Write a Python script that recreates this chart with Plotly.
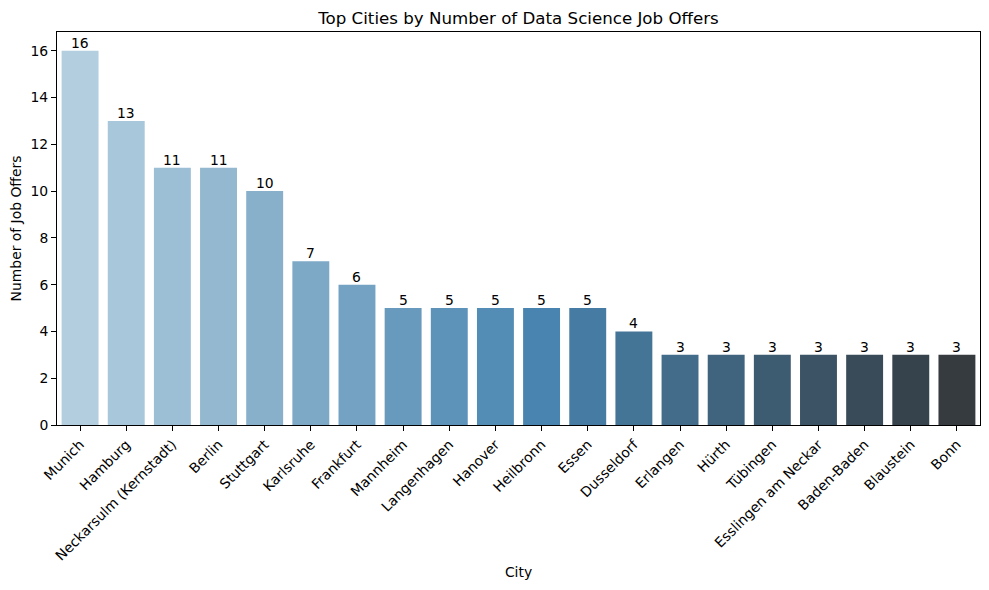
import colorsys
import numpy as np
import plotly.graph_objects as go

cities = ["Munich", "Hamburg", "Neckarsulm (Kernstadt)", "Berlin", "Stuttgart",
          "Karlsruhe", "Frankfurt", "Mannheim", "Langenhagen", "Hanover",
          "Heilbronn", "Essen", "Dusseldorf", "Erlangen", "Hürth", "Tübingen",
          "Esslingen am Neckar", "Baden-Baden", "Blaustein", "Bonn"]
job_offers = [16, 13, 11, 11, 10, 7, 6, 5, 5, 5, 5, 5, 4, 3, 3, 3, 3, 3, 3, 3]

# Seaborn "Blues_d"-like palette, desaturated (saturation=0.75)
anchors = np.array([[171.3, 207.7, 229.7], [55.0, 135.0, 192.3], [51.0, 51.0, 51.0]]) / 255.0
def blend(t):
    if t <= 0.5:
        u = t / 0.5
        return anchors[0] * (1 - u) + anchors[1] * u
    u = (t - 0.5) / 0.5
    return anchors[1] * (1 - u) + anchors[2] * u

n = len(cities)
colors = []
for t in np.linspace(0, 1, n + 1)[:n]:
    r, g, b = blend(t)
    h, l, s = colorsys.rgb_to_hls(r, g, b)
    r, g, b = colorsys.hls_to_rgb(h, l, s * 0.75)
    colors.append("rgb(%d,%d,%d)" % (round(r * 255), round(g * 255), round(b * 255)))

font = "DejaVu Sans"
FS = 13.9
W, H = 981, 582
fig = go.Figure(go.Bar(
    x=cities, y=job_offers, marker=dict(color=colors, line=dict(width=0)),
    width=0.8,
))
for c, v in zip(cities, job_offers):
    fig.add_annotation(x=c, y=v, text=str(v), showarrow=False, yanchor="bottom",
                       xanchor="center", yshift=-2,
                       font=dict(family=font, size=FS, color="black"))
fig.update_layout(
    width=W, height=H,
    margin=dict(l=49, r=9, t=24, b=165, autoexpand=False),
    paper_bgcolor="white", plot_bgcolor="white",
    font=dict(family=font, size=FS, color="black"),
    title=dict(text="Top Cities by Number of Data Science Job Offers",
               x=0.5, xref="paper", xanchor="center", y=1 - 10 / H, yref="container",
               yanchor="middle",
               font=dict(family=font, size=16.67, color="black")),
    showlegend=False,
)
fig.update_xaxes(
    range=[-0.5, n - 0.5], tickangle=-45, ticks="outside", ticklen=5,
    tickcolor="black", showline=True, linecolor="black", linewidth=1,
    mirror=True, showgrid=False, automargin=False,
    title=dict(text="City", font=dict(family=font, size=FS), standoff=4),
    tickfont=dict(family=font, size=FS, color="black"),
)
fig.update_yaxes(
    range=[0, 16.8], tickvals=list(range(0, 17, 2)), ticks="outside", ticklen=5,
    tickcolor="black", showline=True, linecolor="black", linewidth=1,
    mirror=True, showgrid=False, zeroline=False, automargin=False,
    title=dict(text="Number of Job Offers", font=dict(family=font, size=FS), standoff=8),
    tickfont=dict(family=font, size=FS, color="black"),
)
fig.write_html("out.html")
